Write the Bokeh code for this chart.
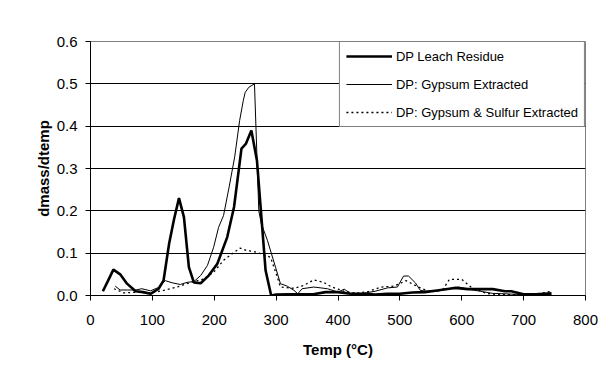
from bokeh.plotting import figure
from bokeh.models import Range1d, FixedTicker, PrintfTickFormatter, Legend, LegendItem
from bokeh.embed import file_html
from bokeh.resources import INLINE

# ---- data ----
leach_x = [20, 30, 37, 48, 59, 73, 85, 97, 110, 118, 127, 135, 143, 151, 159, 167, 178, 191, 205,
           221, 232, 244, 251, 260, 269, 283, 292, 300, 320, 340, 360, 380, 400, 420, 440, 460,
           480, 500, 520, 540, 560, 580, 590, 610, 630, 650, 670, 680, 700, 720, 745]
leach_y = [0.010, 0.040, 0.061, 0.050, 0.028, 0.010, 0.008, 0.004, 0.016, 0.035, 0.122, 0.180,
           0.230, 0.185, 0.067, 0.031, 0.029, 0.047, 0.075, 0.138, 0.209, 0.347, 0.358, 0.390,
           0.319, 0.059, 0.000, 0.002, 0.003, 0.003, 0.003, 0.008, 0.008, 0.004, 0.004, 0.002,
           0.004, 0.004, 0.007, 0.008, 0.012, 0.016, 0.018, 0.015, 0.015, 0.015, 0.010, 0.010,
           0.003, 0.003, 0.005]

gyp_x = [40, 48, 60, 73, 83, 97, 110, 121, 132, 145, 156, 167, 178, 189, 199, 207, 215, 224, 233,
         241, 247, 250, 256, 265, 272, 276, 286, 299, 307, 318, 329, 335, 342, 361, 383, 400,
         410, 420, 440, 460, 480, 496, 506, 514, 525, 533, 545, 560, 580, 595, 610, 630, 650,
         670, 700, 720, 745]
gyp_y = [0.022, 0.013, 0.013, 0.013, 0.016, 0.011, 0.019, 0.035, 0.030, 0.026, 0.031, 0.033,
         0.047, 0.071, 0.114, 0.161, 0.189, 0.256, 0.327, 0.413, 0.461, 0.480, 0.492, 0.500,
         0.200, 0.170, 0.130, 0.067, 0.028, 0.022, 0.012, 0.004, 0.016, 0.020, 0.016, 0.008,
         0.015, 0.005, 0.005, 0.010, 0.018, 0.020, 0.046, 0.046, 0.030, 0.012, 0.010, 0.010,
         0.016, 0.020, 0.015, 0.010, 0.005, 0.004, 0.002, 0.003, 0.003]

gs_x = [38, 54, 75, 97, 118, 140, 162, 183, 199, 215, 232, 242, 253, 264, 277, 291, 302, 307,
        329, 345, 361, 377, 390, 410, 430, 450, 470, 490, 510, 530, 550, 570, 580, 600, 615,
        640, 660, 680, 700, 720, 745]
gs_y = [0.016, 0.006, 0.008, 0.006, 0.012, 0.020, 0.031, 0.039, 0.055, 0.083, 0.102, 0.112,
        0.106, 0.104, 0.098, 0.090, 0.043, 0.020, 0.017, 0.024, 0.037, 0.031, 0.020, 0.010,
        0.005, 0.010, 0.020, 0.022, 0.035, 0.020, 0.008, 0.015, 0.038, 0.038, 0.020, 0.005,
        0.002, 0.002, 0.002, 0.003, 0.010]

x_ticks = [0, 100, 200, 300, 400, 500, 600, 700, 800]
y_ticks = [0.0, 0.1, 0.2, 0.3, 0.4, 0.5, 0.6]
series_names = ["DP Leach Residue", "DP: Gypsum Extracted", "DP: Gypsum & Sulfur Extracted"]

FONT = "Liberation Sans"

p = figure(width=614, height=374, output_backend="svg", toolbar_location=None,
           x_range=Range1d(0, 800), y_range=Range1d(0, 0.6),
           min_border_left=90, min_border_right=29, min_border_top=41, min_border_bottom=79)
p.background_fill_color = "white"
p.border_fill_color = "white"
p.outline_line_color = "#808080"
p.outline_line_width = 1

# axes
p.xaxis.ticker = FixedTicker(ticks=x_ticks)
p.yaxis.ticker = FixedTicker(ticks=y_ticks)
p.yaxis.formatter = PrintfTickFormatter(format="%.1f")
for ax in (p.xaxis[0], p.yaxis[0]):
    ax.axis_line_color = "black"
    ax.axis_line_width = 1
    ax.major_tick_line_color = "black"
    ax.major_tick_out = 5
    ax.major_tick_in = 0
    ax.minor_tick_line_color = None
    ax.major_label_text_font = FONT
    ax.major_label_text_font_size = "15px"
    ax.major_label_text_color = "black"
    ax.axis_label_text_font = FONT
    ax.axis_label_text_font_size = "15px"
    ax.axis_label_text_font_style = "bold"
    ax.axis_label_text_color = "black"
p.xaxis.axis_label = "Temp (°C)"
p.yaxis.axis_label = "dmass/dtemp"
p.xaxis.major_label_standoff = 14
p.xaxis.axis_label_standoff = 13
p.yaxis.major_label_standoff = 8
p.yaxis.axis_label_standoff = 2

# grid
p.xgrid.grid_line_color = None
p.ygrid.ticker = FixedTicker(ticks=[0.1, 0.2, 0.3, 0.4, 0.5])
p.ygrid.grid_line_color = "black"
p.ygrid.grid_line_width = 1

# lines
r3 = p.line(gs_x, gs_y, line_color="black", line_width=1.3, line_dash="2 3")
r2 = p.line(gyp_x, gyp_y, line_color="black", line_width=1)
r1 = p.line(leach_x, leach_y, line_color="black", line_width=2.6)

legend = Legend(items=[LegendItem(label=series_names[0], renderers=[r1]),
                       LegendItem(label=series_names[1], renderers=[r2]),
                       LegendItem(label=series_names[2], renderers=[r3])],
                location="top_right", margin=0, padding=6, spacing=12,
                glyph_width=46, glyph_height=16, label_height=16, label_standoff=4,
                label_text_font=FONT, label_text_font_size="13px", label_text_color="black",
                border_line_color="black", border_line_width=1,
                background_fill_color="white", background_fill_alpha=1)
p.add_layout(legend)

open("out.html", "w").write(file_html(p, INLINE))
